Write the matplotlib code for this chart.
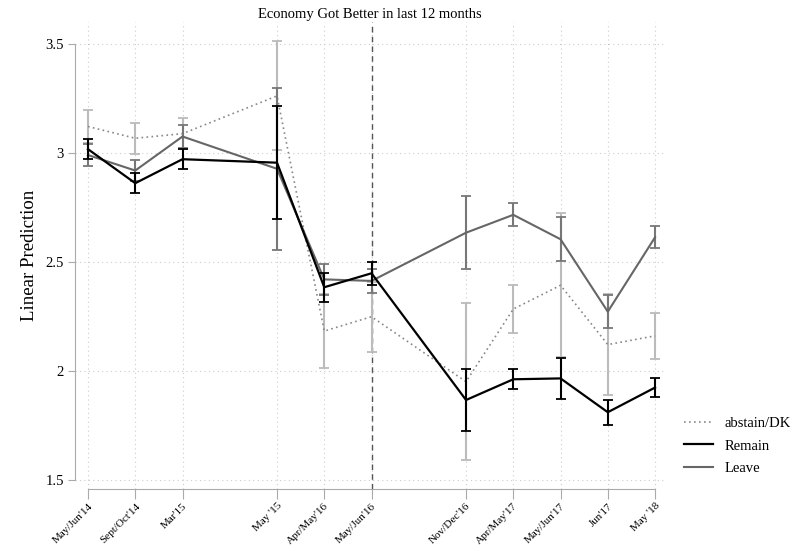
import numpy as np
import matplotlib.pyplot as plt

plt.rcParams['font.family'] = ['Liberation Serif', 'DejaVu Serif']

# survey waves and their position on the time axis
wave_labels = ["May/Jun'14", "Sept/Oct'14", "Mar'15", "May '15", "Apr/May'16",
               "May/Jun'16", "Nov/Dec'16", "Apr/May'17", "May/Jun'17", "Jun'17", "May '18"]
wave_pos = [0, 1, 2, 4, 5, 6, 8, 9, 10, 11, 12]

# linear predictions and 95% CI half-widths
abstain = [3.121, 3.067, 3.088, 3.261, 2.183, 2.249, 1.951, 2.284, 2.393, 2.121, 2.161]
abstain_ci = [0.076, 0.071, 0.071, 0.25, 0.17, 0.16, 0.36, 0.11, 0.33, 0.23, 0.107]

remain = [3.017, 2.861, 2.971, 2.955, 2.384, 2.448, 1.867, 1.962, 1.966, 1.811, 1.924]
remain_ci = [0.046, 0.045, 0.046, 0.26, 0.066, 0.053, 0.14, 0.045, 0.094, 0.058, 0.044]

leave = [2.99, 2.919, 3.075, 2.927, 2.42, 2.413, 2.634, 2.716, 2.604, 2.272, 2.613]
leave_ci = [0.05, 0.05, 0.052, 0.37, 0.072, 0.055, 0.166, 0.052, 0.10, 0.075, 0.05]

referendum = 6  # May/Jun'16

fig = plt.figure(figsize=(7.97, 5.51), dpi=100)
ax = fig.add_axes([75 / 797, 1 - 489 / 551, (664.5 - 75) / 797, (489 - 22) / 551])

# grid
for y in [1.5, 2, 2.5, 3, 3.5]:
    ax.axhline(y, color='#cccccc', lw=0.8, ls=(0, (1, 3)), zorder=0)
for x in wave_pos:
    ax.axvline(x, color='#cccccc', lw=0.8, ls=(0, (1, 3)), zorder=0)

ax.axvline(referendum, color='#555555', lw=1, ls=(0, (4, 3)), zorder=1)

# abstain / DK
ax.errorbar(wave_pos, abstain, yerr=abstain_ci, fmt='none', ecolor='#bbbbbb',
            elinewidth=1.5, capsize=3.5, capthick=1.3, zorder=2)
ax.plot(wave_pos, abstain, color='#888888', lw=1.2, ls=(0, (1, 2)), zorder=3,
        label='abstain/DK')

# leave
ax.errorbar(wave_pos, leave, yerr=leave_ci, fmt='none', ecolor='#777777',
            elinewidth=1.5, capsize=3.5, capthick=1.3, zorder=4)
ax.plot(wave_pos, leave, color='#666666', lw=1.5, zorder=5, label='Leave')

# remain
ax.errorbar(wave_pos, remain, yerr=remain_ci, fmt='none', ecolor='black',
            elinewidth=1.5, capsize=3.5, capthick=1.3, zorder=6)
ax.plot(wave_pos, remain, color='black', lw=1.6, zorder=7, label='Remain')

ax.set_xlim(-0.275, 12.2)
ax.set_ylim(1.459, 3.60)

for s in ['top', 'right']:
    ax.spines[s].set_visible(False)
ax.spines['left'].set_bounds(1.5, 3.5)
ax.spines['bottom'].set_bounds(0, 12)
ax.spines['left'].set_color('#aaaaaa')
ax.spines['bottom'].set_color('#aaaaaa')

ax.set_yticks([1.5, 2, 2.5, 3, 3.5])
ax.set_yticklabels(['1.5', '2', '2.5', '3', '3.5'])
ax.set_xticks(wave_pos)
ax.set_xticklabels(wave_labels, rotation=45, ha='right', rotation_mode='anchor', fontsize=8)
ax.tick_params(axis='x', color='#aaaaaa', length=7, pad=2)
ax.tick_params(axis='y', color='#aaaaaa', length=5, labelsize=10.5, pad=3)

ax.set_ylabel('Linear Prediction', fontsize=13.5, labelpad=5)
ax.set_title('Economy Got Better in last 12 months', fontsize=10.5, pad=3)

handles, labels = ax.get_legend_handles_labels()
order = [labels.index('abstain/DK'), labels.index('Remain'), labels.index('Leave')]
fig.legend([handles[i] for i in order], [labels[i] for i in order],
           loc='center left', bbox_to_anchor=(671 / 797, 1 - 446 / 551),
           frameon=False, fontsize=10.5, handlelength=2.0, labelspacing=0.65,
           handletextpad=0.75)

fig.savefig('out.png', dpi=100)
